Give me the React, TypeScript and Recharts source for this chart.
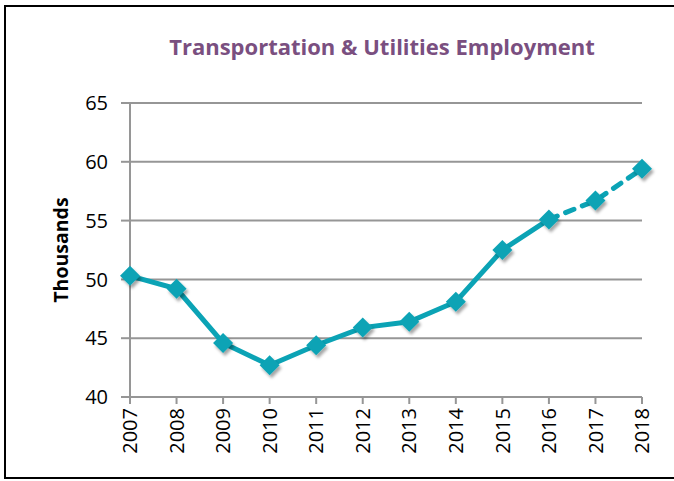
import React from 'react';
import { LineChart, Line, XAxis, YAxis, CartesianGrid } from 'recharts';

const years = ['2007', '2008', '2009', '2010', '2011', '2012', '2013', '2014', '2015', '2016', '2017', '2018'];
const actual: (number | null)[] = [50.3, 49.2, 44.6, 42.7, 44.4, 45.9, 46.4, 48.1, 52.5, 55.1, null, null];
const projected: (number | null)[] = [null, null, null, null, null, null, null, null, null, 55.1, 56.7, 59.4];
const yTicks = [40, 45, 50, 55, 60, 65];

const data = years.map((year, i) => ({ year, actual: actual[i], projected: projected[i] }));

const TEAL = '#0BA3B5';
const GRID = '#969696';
const FONT = '"Open Sans", sans-serif';

const Diamond = (props: any) => {
  const { cx, cy, value, index } = props;
  if (value == null || cx == null || cy == null) return <g key={`d-${index}`} />;
  const r = 10;
  return (
    <path
      key={`d-${index}`}
      d={`M${cx},${cy - r} L${cx + r},${cy} L${cx},${cy + r} L${cx - r},${cy} Z`}
      fill={TEAL}
      filter="url(#markerShadow)"
    />
  );
};

const ProjDiamond = (props: any) => {
  const { index } = props;
  if (index < 10) return <g key={`p-${index}`} />;
  return Diamond(props);
};

const XTick = (props: any) => {
  const { x, y, payload } = props;
  return (
    <text
      x={x}
      y={y}
      transform={`rotate(-90 ${x} ${y})`}
      textAnchor="end"
      dy="0.36em"
      fill="#000"
      fontSize={20}
      fontFamily={FONT}
    >
      {payload.value}
    </text>
  );
};

export default function App() {
  return (
    <div style={{ position: 'absolute', left: 0, top: 0, width: 674, height: 481, background: '#fff', overflow: 'hidden' }}>
      <div style={{ position: 'absolute', left: 4, top: 5, width: 680, height: 470, borderLeft: '2px solid #000', borderTop: '2px solid #000', borderBottom: '2px solid #000' }} />
      <svg width={674} height={481} style={{ position: 'absolute', left: 0, top: 0 }}>
        <defs>
          <filter id="markerShadow" x="-50%" y="-50%" width="200%" height="200%">
            <feDropShadow dx="2" dy="3" stdDeviation="1.8" floodColor="#000" floodOpacity="0.35" />
          </filter>
        </defs>
        <text x={382} y={55} textAnchor="middle" fill="#7A4F80" fontSize={22} fontWeight="bold" fontFamily={FONT}>
          Transportation &amp; Utilities Employment
        </text>
        <text x={68} y={250} transform="rotate(-90 68 250)" textAnchor="middle" fill="#000" fontSize={19.5} fontWeight="bold" fontFamily={FONT}>
          Thousands
        </text>
      </svg>
      <div style={{ position: 'absolute', left: 0, top: 0 }}>
        <LineChart width={674} height={481} data={data} margin={{ top: 103, right: 32, bottom: 0, left: 0 }}>
          <CartesianGrid vertical={false} stroke={GRID} strokeWidth={2} />
          <XAxis
            dataKey="year"
            height={84}
            tick={<XTick />}
            tickSize={7}
            tickMargin={4}
            interval={0}
            axisLine={{ stroke: GRID, strokeWidth: 2 }}
            tickLine={{ stroke: GRID, strokeWidth: 2 }}
          />
          <YAxis
            width={130}
            domain={[40, 65]}
            ticks={yTicks}
            interval={0}
            tickSize={9}
            tickMargin={13}
            tick={{ fill: '#000', fontSize: 20, fontFamily: FONT }}
            axisLine={{ stroke: GRID, strokeWidth: 2 }}
            tickLine={{ stroke: GRID, strokeWidth: 2 }}
          />
          <Line
            dataKey="projected"
            stroke={TEAL}
            strokeWidth={5}
            strokeDasharray="9 9"
            strokeLinecap="round"
            dot={<ProjDiamond />}
            activeDot={false}
            isAnimationActive={false}
            connectNulls={false}
          />
          <Line
            dataKey="actual"
            stroke={TEAL}
            strokeWidth={5}
            dot={<Diamond />}
            activeDot={false}
            isAnimationActive={false}
            connectNulls={false}
          />
        </LineChart>
      </div>
    </div>
  );
}
